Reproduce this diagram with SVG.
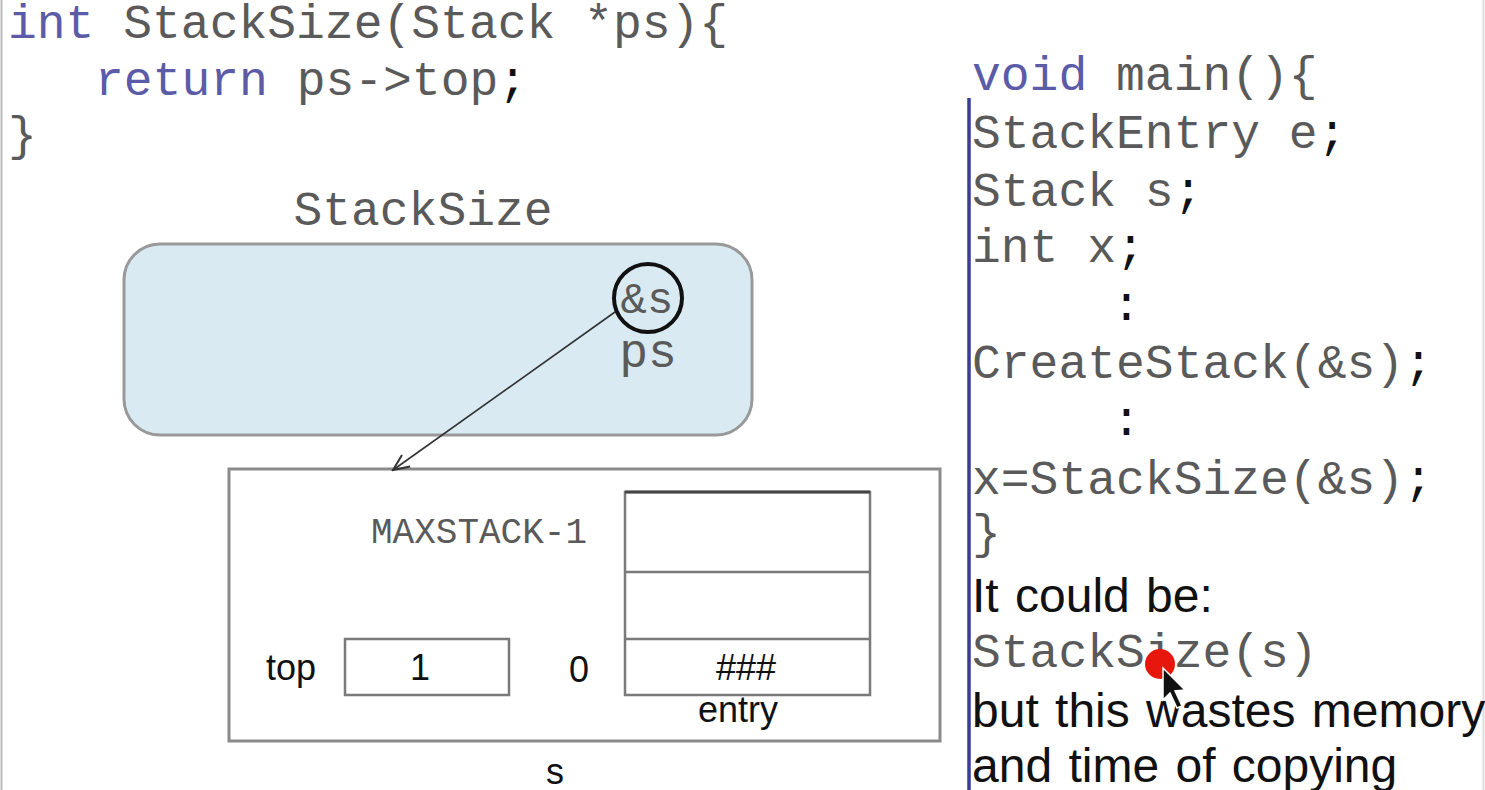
<svg xmlns="http://www.w3.org/2000/svg" width="1485" height="790" viewBox="0 0 1485 790">
<defs>
<style>
.code{font-family:"Liberation Mono","Courier New",monospace;font-size:48px;fill:#5a5a5a}
.kw{fill:#5b5ba8}
.semi{fill:#111111}
.sans{font-family:"Liberation Sans",Arial,sans-serif;fill:#111111}
.prose{font-size:48px;word-spacing:3px}
.box{fill:#ffffff;stroke:#8a8a8a;stroke-width:3}
.cell{fill:none;stroke:#7a7a7a;stroke-width:2.5}
</style>
<marker id="arr" viewBox="0 0 20 20" refX="18" refY="10" markerWidth="20" markerHeight="20" markerUnits="userSpaceOnUse" orient="auto">
<path d="M2,3 L18,10 L2,17" fill="none" stroke="#333333" stroke-width="2"/>
</marker>
</defs>
<rect x="0" y="0" width="1485" height="790" fill="#ffffff"/>
<line x1="1.5" y1="0" x2="1.5" y2="790" stroke="#bbbbbb" stroke-width="2"/>
<line x1="1483.5" y1="0" x2="1483.5" y2="790" stroke="#dddddd" stroke-width="2"/>

<g id="code-stacksize">
<text class="code" x="8" y="38"><tspan class="kw">int</tspan> StackSize(Stack *ps){</text>
<text class="code" x="95" y="95"><tspan class="kw">return</tspan> ps-&gt;top<tspan class="semi">;</tspan></text>
<text class="code" x="8" y="150">}</text>
</g>

<g id="code-main">
<line x1="969" y1="98" x2="969" y2="790" stroke="#3b3b9a" stroke-width="3.5"/>
<text class="code" x="972" y="90"><tspan class="kw">void</tspan> main(){</text>
<text class="code" x="972" y="148">StackEntry e<tspan class="semi">;</tspan></text>
<text class="code" x="972" y="206">Stack s<tspan class="semi">;</tspan></text>
<text class="code" x="972" y="262">int x<tspan class="semi">;</tspan></text>
<text class="code" x="1112" y="320" style="fill:#111">:</text>
<text class="code" x="972" y="378">CreateStack(&amp;s)<tspan class="semi">;</tspan></text>
<text class="code" x="1112" y="435" style="fill:#111">:</text>
<text class="code" x="972" y="494">x=StackSize(&amp;s)<tspan class="semi">;</tspan></text>
<text class="code" x="972" y="548">}</text>
<text class="sans prose" x="972" y="612">It could be:</text>
<text class="code" x="972" y="667">StackSize(s)</text>
<text class="sans prose" x="972" y="727">but this wastes memory</text>
<text class="sans prose" x="972" y="782">and time of copying</text>
</g>

<g id="frame-stacksize">
<text class="code" x="423" y="225" text-anchor="middle">StackSize</text>
<rect x="124" y="244" width="628" height="191" rx="36" ry="36" fill="#d9eaf2" stroke="#999999" stroke-width="3"/>
</g>

<g id="ps">
<circle cx="648" cy="298" r="34" fill="#d9eaf2" stroke="#111111" stroke-width="4"/>
<text class="code" x="647" y="313" text-anchor="middle" style="font-size:44px">&amp;s</text>
<text class="code" x="648" y="367" text-anchor="middle">ps</text>
</g>

<g id="s">
<rect class="box" x="229" y="469" width="711" height="272"/>
<text class="code" x="371" y="543" style="font-size:36px">MAXSTACK-1</text>
<text class="sans" x="266" y="680" style="font-size:36px">top</text>
<rect class="cell" x="345" y="639" width="164" height="56"/>
<text class="sans" x="420" y="680" text-anchor="middle" style="font-size:36px">1</text>
<text class="sans" x="579" y="682" text-anchor="middle" style="font-size:36px">0</text>
<rect class="cell" x="625" y="492" width="245" height="203"/>
<line x1="625" y1="492" x2="870" y2="492" stroke="#444444" stroke-width="3"/>
<line class="cell" x1="625" y1="572" x2="870" y2="572"/>
<line class="cell" x1="625" y1="639" x2="870" y2="639"/>
<text class="sans" x="746" y="680" text-anchor="middle" style="font-size:36px">###</text>
<text class="sans" x="738" y="722" text-anchor="middle" style="font-size:36px">entry</text>
<text class="sans" x="555" y="784" text-anchor="middle" style="font-size:36px">s</text>
</g>

<g id="connectors">
<line x1="615" y1="312" x2="393" y2="470" stroke="#333333" stroke-width="1.6" marker-end="url(#arr)"/>
</g>

<g id="pointer">
<circle cx="1160" cy="664" r="15" fill="#e8170d"/>
<path d="M1163,668 L1163,700 L1170,693 L1177,708 L1182,706 L1175,691 L1185,690 Z" fill="#111111" stroke="#ffffff" stroke-width="1.5"/>
</g>
</svg>
